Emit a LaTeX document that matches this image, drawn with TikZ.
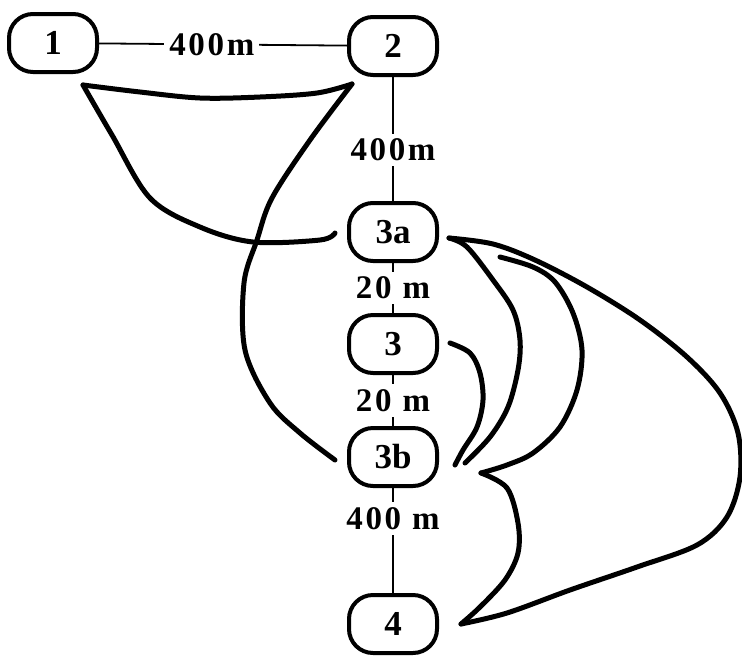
\documentclass[tikz,border=0pt]{standalone}
\usepackage{fontspec}
\setmainfont{Liberation Serif}
\newfontfamily\distfont[LetterSpace=8]{Liberation Serif}
\usetikzlibrary{positioning}

\begin{document}
\begin{tikzpicture}[
        x=1pt, y=-1pt,
        site/.style={
          draw,
          line width=4pt,
          rounded corners=24pt,
          inner sep=0pt,
          minimum width=88pt,
          minimum height=58pt,
          font=\fontsize{35}{37}\selectfont\bfseries
        },
        link/.style={line width=1.8pt},
        dist/.style={fill=white, inner sep=5pt, font=\distfont\fontsize{33}{35}\selectfont\bfseries},
        route/.style={line width=5pt, line cap=round, line join=round}
      ]
        \useasboundingbox (0,0) rectangle (742,657);
        \node[site] at (393,46) (n2) {2};
        \node[site, left=248pt of n2, yshift=3pt] (n1) {1};
        \node[site, below=124pt of n2] (n3a) {3a};
        \node[site, below=50pt of n3a] (n3) {3};
        \node[site, below=51pt of n3] (n3b) {3b};
        \node[site, below=105pt of n3b] (n4) {4};

        \draw[link] (n1) -- node[dist, pos=0.455] {400m} (n2);
        \draw[link] (n2) -- node[dist, pos=0.59] {400m} (n3a);
        \draw[link] (n3a) -- node[dist] {20 m} (n3);
        \draw[link] (n3) -- node[dist] {20 m} (n3b);
        \draw[link] (n3b) -- node[dist, pos=0.29] {400 m} (n4);

        % hand-drawn routes
        \draw[route] plot[smooth, tension=0.55] coordinates {([shift={(-16,11)}]n1.south east) (140,92) (200,98) (260,97) (317,93) ([shift={(5,7)}]n2.south west)};
        \draw[route] plot[smooth, tension=0.55] coordinates {([shift={(-16,11)}]n1.south east) (112,135) (150,198) (200,227) (253,242) (320,240) ([shift={(-12,1)}]n3a.west)};
        \draw[route] plot[smooth, tension=0.55] coordinates {([shift={(5,7)}]n2.south west) (310,140) (272,198) (257,240) (244,283) (245,350) (270,403) (300,433) ([shift={(-12,3)}]n3b.west)};
        \draw[route] plot[smooth, tension=0.55] coordinates {([shift={(10,6)}]n3a.east) (467,247) (493,280) (513,310) (520,340) (518,370) (508,407) (490,437) ([shift={(26,6)}]n3b.east)};
        \draw[route] plot[smooth, tension=0.55] coordinates {(500,257) (533,267) (555,282) (573,313) (582,350) (577,390) (560,427) (533,453) (507,465) ([shift={(42,16)}]n3b.east)};
        \draw[route] plot[smooth, tension=0.55] coordinates {([shift={(42,16)}]n3b.east) (507,488) (518,523) (518,553) (505,580) (480,607) ([shift={(22,0)}]n4.east)};
        \draw[route] plot[smooth, tension=0.55] coordinates {([shift={(10,6)}]n3a.east) (493,244) (535,260) (587,287) (640,320) (687,357) (720,393) (738,433) (740,477) (727,517) (697,545) (637,567) (570,590) (507,613) ([shift={(22,0)}]n4.east)};
        \draw[route] plot[smooth, tension=0.55] coordinates {([shift={(11,-1)}]n3.east) (470,353) (480,373) (483,400) (477,427) (463,450) ([shift={(16,8)}]n3b.east)};
      \end{tikzpicture}
\end{document}
